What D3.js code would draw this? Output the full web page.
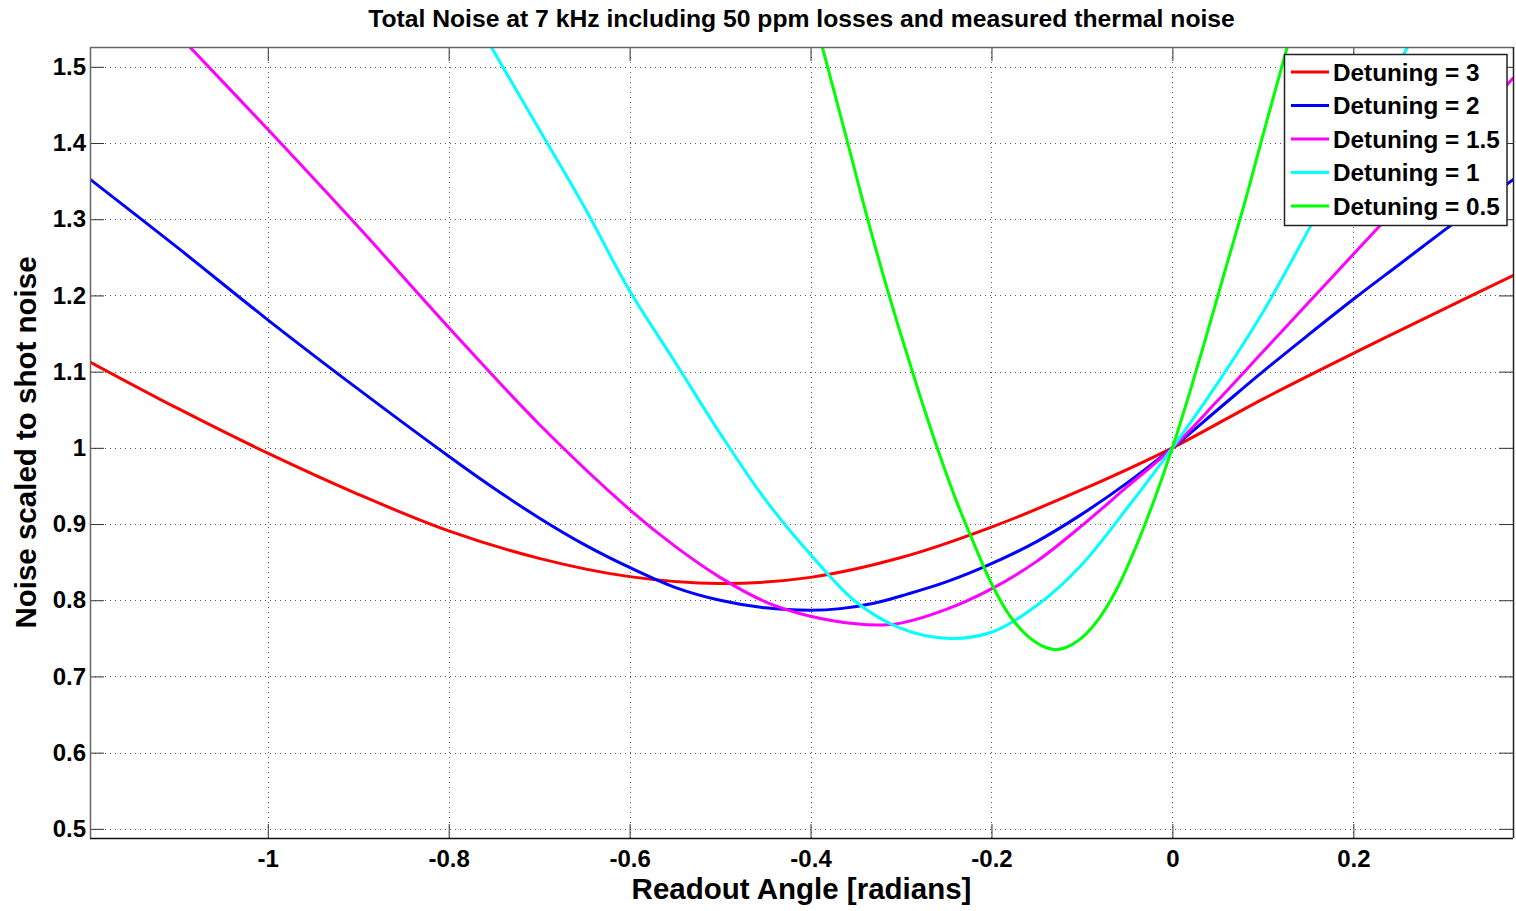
<!DOCTYPE html>
<html>
<head>
<meta charset="utf-8">
<script src="https://cdn.jsdelivr.net/npm/d3@7/dist/d3.min.js"></script>
<style>
  html, body { margin: 0; padding: 0; background: #fff; }
  svg { display: block; }
  text { font-family: "Liberation Sans", Arial, Helvetica, sans-serif; font-weight: bold; fill: #000; }
</style>
</head>
<body>
<svg id="chart" width="1516" height="911"></svg>
<script>
// ---------- data ----------
const titleText = "Total Noise at 7 kHz including 50 ppm losses and measured thermal noise";
const xLabelText = "Readout Angle [radians]";
const yLabelText = "Noise scaled to shot noise";

const xTicks = [-1, -0.8, -0.6, -0.4, -0.2, 0, 0.2];
const xTickLabels = ["-1", "-0.8", "-0.6", "-0.4", "-0.2", "0", "0.2"];
const yTicks = [0.5, 0.6, 0.7, 0.8, 0.9, 1.0, 1.1, 1.2, 1.3, 1.4, 1.5];
const yTickLabels = ["0.5", "0.6", "0.7", "0.8", "0.9", "1", "1.1", "1.2", "1.3", "1.4", "1.5"];

const seriesNames = ["Detuning = 3", "Detuning = 2", "Detuning = 1.5", "Detuning = 1", "Detuning = 0.5"];
const seriesColors = ["#ff0000", "#0000ff", "#ff00ff", "#00ffff", "#00ff00"];

const detuning3 = [
  [-1.197, 1.113], [-1.1, 1.052], [-1.0, 0.993], [-0.9, 0.939], [-0.8, 0.891],
  [-0.7, 0.855], [-0.6, 0.831], [-0.5, 0.822], [-0.4, 0.830], [-0.3, 0.856],
  [-0.2, 0.896], [-0.1, 0.945], [0, 1], [0.1, 1.064], [0.2, 1.124],
  [0.3, 1.182], [0.3765, 1.226]
];
const detuning2 = [
  [-1.197, 1.353], [-1.1, 1.263], [-1.0, 1.168], [-0.9, 1.077], [-0.8, 0.989],
  [-0.75, 0.947], [-0.7, 0.908], [-0.65, 0.873], [-0.6, 0.843], [-0.55, 0.817],
  [-0.5, 0.800], [-0.45, 0.790], [-0.4, 0.787], [-0.367, 0.789], [-0.33, 0.796],
  [-0.293, 0.808], [-0.25, 0.824], [-0.2, 0.848], [-0.15, 0.877], [-0.1, 0.913],
  [-0.05, 0.954], [0, 1], [0.05, 1.050], [0.1, 1.100], [0.15, 1.148],
  [0.2, 1.195], [0.25, 1.240], [0.3, 1.285], [0.3765, 1.352]
];
const detuning15 = [
  [-1.087, 1.527], [-1.0, 1.418], [-0.9, 1.290], [-0.8, 1.158], [-0.7, 1.031],
  [-0.6, 0.919], [-0.55, 0.871], [-0.5, 0.830], [-0.45, 0.798], [-0.4, 0.779],
  [-0.35, 0.769], [-0.32, 0.7675], [-0.3, 0.770], [-0.25, 0.788], [-0.2, 0.815],
  [-0.15, 0.851], [-0.1, 0.898], [-0.05, 0.949], [0, 1], [0.05, 1.062],
  [0.1, 1.126], [0.15, 1.190], [0.2, 1.254], [0.25, 1.318], [0.3, 1.384], [0.3765, 1.485]
];
const detuning1 = [
  [-0.753, 1.526], [-0.7, 1.418], [-0.65, 1.316], [-0.6, 1.206], [-0.55, 1.113],
  [-0.5, 1.019], [-0.45, 0.932], [-0.4, 0.860], [-0.35, 0.798], [-0.3, 0.763],
  [-0.25, 0.750], [-0.2, 0.758], [-0.15, 0.793], [-0.1, 0.847], [-0.05, 0.921],
  [0, 1], [0.05, 1.085], [0.1, 1.178], [0.15, 1.285], [0.2, 1.395], [0.26, 1.526]
];
const detuning05 = [
  [-0.387, 1.526], [-0.36, 1.405], [-0.34, 1.314], [-0.32, 1.228], [-0.3, 1.148],
  [-0.28, 1.072], [-0.26, 1.0], [-0.24, 0.934], [-0.22, 0.876], [-0.2, 0.822],
  [-0.18, 0.780], [-0.16, 0.753], [-0.14, 0.738], [-0.13, 0.7355], [-0.12, 0.737],
  [-0.1, 0.751], [-0.08, 0.778], [-0.06, 0.818], [-0.04, 0.871], [-0.02, 0.932],
  [0, 1], [0.02, 1.076], [0.04, 1.157], [0.06, 1.240], [0.08, 1.322],
  [0.1, 1.410], [0.127, 1.526]
];
const seriesData = [detuning3, detuning2, detuning15, detuning1, detuning05];

// ---------- layout ----------
const svg = d3.select("#chart");
const L = 90, R = 1513, T = 47, B = 838;
const x = d3.scaleLinear().domain([-1.1965, 0.3765]).range([L, R]);
const y = d3.scaleLinear().domain([0.488, 1.526]).range([B, T]);

svg.append("rect").attr("x", 0).attr("y", 0).attr("width", 1516).attr("height", 911).attr("fill", "#fff");

// grid
const grid = svg.append("g").attr("stroke", "#555").attr("stroke-width", 1).attr("stroke-dasharray", "1,4");
grid.selectAll("line.gx").data(xTicks).enter().append("line")
  .attr("x1", d => Math.round(x(d)) + 0.5).attr("x2", d => Math.round(x(d)) + 0.5)
  .attr("y1", T).attr("y2", B);
grid.selectAll("line.gy").data(yTicks).enter().append("line")
  .attr("y1", d => Math.round(y(d)) + 0.5).attr("y2", d => Math.round(y(d)) + 0.5)
  .attr("x1", L).attr("x2", R);

// axes
const tickLen = 14;
const fmtX = d => xTickLabels[xTicks.indexOf(d)];
const fmtY = d => yTickLabels[yTicks.indexOf(d)];

function styleAxis(g) {
  g.select(".domain").remove();
  g.selectAll(".tick line").attr("stroke", "#333").attr("stroke-width", 1);
  g.selectAll(".tick text").attr("font-size", 24).attr("font-weight", "bold")
    .attr("font-family", '"Liberation Sans", Arial, sans-serif').attr("fill", "#000");
}
svg.append("g").attr("transform", `translate(0,${B})`)
  .call(d3.axisBottom(x).tickValues(xTicks).tickFormat(fmtX).tickSizeInner(-tickLen).tickSizeOuter(0).tickPadding(12))
  .call(styleAxis);
svg.append("g").attr("transform", `translate(0,${T})`)
  .call(d3.axisTop(x).tickValues(xTicks).tickFormat("").tickSizeInner(-tickLen).tickSizeOuter(0))
  .call(styleAxis);
svg.append("g").attr("transform", `translate(${L},0)`)
  .call(d3.axisLeft(y).tickValues(yTicks).tickFormat(fmtY).tickSizeInner(-tickLen).tickSizeOuter(0).tickPadding(4))
  .call(styleAxis);
svg.append("g").attr("transform", `translate(${R},0)`)
  .call(d3.axisRight(y).tickValues(yTicks).tickFormat("").tickSizeInner(-tickLen).tickSizeOuter(0))
  .call(styleAxis);

// clip
svg.append("defs").append("clipPath").attr("id", "plotClip")
  .append("rect").attr("x", L).attr("y", T).attr("width", R - L).attr("height", B - T);

const line = d3.line().x(d => x(d[0])).y(d => y(d[1])).curve(d3.curveCatmullRom.alpha(0.5));
const lines = svg.append("g").attr("clip-path", "url(#plotClip)");
seriesData.forEach((s, i) => {
  lines.append("path").datum(s).attr("d", line)
    .attr("fill", "none").attr("stroke", seriesColors[i]).attr("stroke-width", 3)
    .attr("stroke-linejoin", "round").attr("stroke-linecap", "round");
});

// frame
svg.append("line").attr("x1", L).attr("x2", R).attr("y1", T + 0.5).attr("y2", T + 0.5).attr("stroke", "#666").attr("stroke-width", 1.5);
svg.append("line").attr("x1", L + 0.5).attr("x2", L + 0.5).attr("y1", T).attr("y2", B).attr("stroke", "#666").attr("stroke-width", 1.5);
svg.append("line").attr("x1", L).attr("x2", R).attr("y1", B + 0.5).attr("y2", B + 0.5).attr("stroke", "#111").attr("stroke-width", 1.5);
svg.append("line").attr("x1", R + 0.5).attr("x2", R + 0.5).attr("y1", T).attr("y2", B).attr("stroke", "#222").attr("stroke-width", 1.5);

// title & labels
svg.append("text").attr("x", (L + R) / 2).attr("y", 27).attr("text-anchor", "middle")
  .attr("font-size", 24.7).text(titleText);
svg.append("text").attr("x", (L + R) / 2).attr("y", 899).attr("text-anchor", "middle")
  .attr("font-size", 29.5).text(xLabelText);
svg.append("text").attr("transform", `translate(36,${(T + B) / 2}) rotate(-90)`).attr("text-anchor", "middle")
  .attr("font-size", 29.5).text(yLabelText);

// legend
const lg = svg.append("g");
lg.append("rect").attr("x", 1284.5).attr("y", 54.5).attr("width", 222.5).attr("height", 171)
  .attr("fill", "#fff").attr("stroke", "#222").attr("stroke-width", 1.5);
const legendY = d3.scalePoint().domain(seriesNames).range([72, 206]);
seriesNames.forEach((n, i) => {
  const yy = legendY(n);
  lg.append("line").attr("x1", 1291).attr("x2", 1329).attr("y1", yy).attr("y2", yy)
    .attr("stroke", seriesColors[i]).attr("stroke-width", 3);
  lg.append("text").attr("x", 1333).attr("y", yy + 8.5).attr("font-size", 24.3).text(n);
});
</script>
</body>
</html>
